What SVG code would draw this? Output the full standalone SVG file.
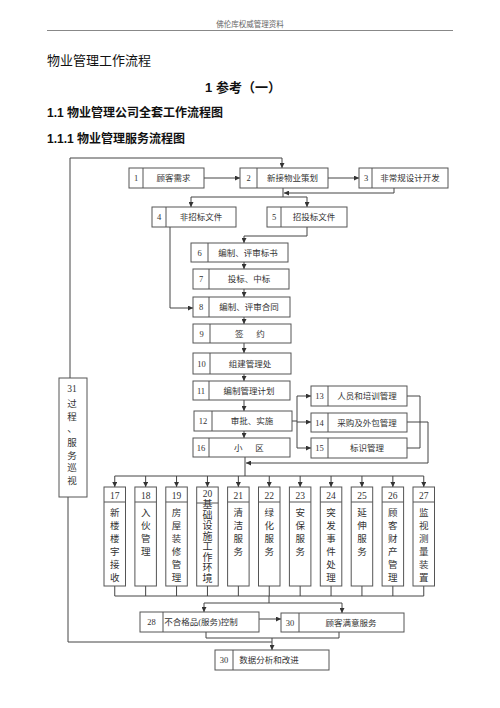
<svg xmlns="http://www.w3.org/2000/svg" width="500" height="708" viewBox="0 0 500 708">
<defs>
<style>
.b{fill:#fff;stroke:#555;stroke-width:1}
.d{stroke:#555;stroke-width:1;fill:none}
.c{stroke:#444;stroke-width:1;fill:none}
.ca{stroke:#444;stroke-width:1;fill:none;marker-end:url(#a)}
.t{font-family:"Liberation Serif","Noto Sans CJK SC",serif;font-size:8.5px;fill:#333;text-anchor:middle}
.v{font-family:"Liberation Serif","Noto Sans CJK SC",serif;font-size:9.5px;fill:#333;text-anchor:middle}
.h{font-family:"Liberation Sans","Noto Sans CJK SC",sans-serif;fill:#111}
</style>
<marker id="a" viewBox="0 0 6 6" refX="6" refY="3" markerWidth="5" markerHeight="5" orient="auto" markerUnits="userSpaceOnUse"><path d="M0,0 L6,3 L0,6 z" fill="#333"/></marker>
</defs>
<rect width="500" height="708" fill="#fff"/>
<text x="250" y="27" class="h" style="font-size:7.5px;fill:#666" text-anchor="middle">佛伦库权威管理资料</text>
<line x1="47" y1="30.5" x2="453" y2="30.5" stroke="#888" stroke-width="1"/>
<text x="47" y="65" class="h" style="font-size:13px">物业管理工作流程</text>
<text x="243" y="92" class="h" style="font-size:13px;font-weight:bold" text-anchor="middle">1 参考（一）</text>
<text x="47" y="117" class="h" style="font-size:12px;font-weight:bold">1.1 物业管理公司全套工作流程图</text>
<text x="47" y="143" class="h" style="font-size:12px;font-weight:bold">1.1.1 物业管理服务流程图</text>

<g id="connectors">
<path class="c" d="M70,378 V158 H282"/><path class="ca" d="M282,158 V168"/>
<path class="ca" d="M204,178 H240"/>
<path class="ca" d="M328,178 H359"/>
<path class="ca" d="M394,188 V193 H284"/>
<path class="c" d="M283,188 V197 M191,197 H307"/>
<path class="ca" d="M191,197 V207"/><path class="ca" d="M307,197 V207"/>
<path class="ca" d="M170,227 V308 H193"/>
<path class="ca" d="M307,227 V236 H244 V243"/>
<path class="ca" d="M244,262 V269"/>
<path class="ca" d="M244,289 V297"/>
<path class="ca" d="M244,317 V324"/>
<path class="ca" d="M244,343 V353"/>
<path class="ca" d="M244,374 V381"/>
<path class="ca" d="M244,400 V411"/>
<path class="ca" d="M244,431 V438"/>
<path class="c" d="M292,421 H297 M297,396 V448"/>
<path class="ca" d="M297,396 H311"/><path class="ca" d="M297,422 H311"/><path class="ca" d="M297,448 H311"/>
<path class="c" d="M407,396 H420 V448 H407"/>
<path class="ca" d="M407,422 H428 V463 H246"/>
<path class="c" d="M245,457 V476 M114.75,476 H423.75"/>
<path class="ca" d="M114.75,476 V487"/><path class="ca" d="M145.65,476 V487"/><path class="ca" d="M176.55,476 V487"/><path class="ca" d="M207.45,476 V487"/><path class="ca" d="M238.35,476 V487"/><path class="ca" d="M269.25,476 V487"/><path class="ca" d="M300.15,476 V487"/><path class="ca" d="M331.05,476 V487"/><path class="ca" d="M361.95,476 V487"/><path class="ca" d="M392.85,476 V487"/><path class="ca" d="M423.75,476 V487"/>
<path class="c" d="M114.75,586 V596 M145.65,586 V596 M176.55,586 V596 M207.45,586 V596 M238.35,586 V596 M269.25,586 V596 M300.15,586 V596 M331.05,586 V596 M361.95,586 V596 M392.85,586 V596 M423.75,586 V596 M114.75,596 H423.75 M269,596 V603 M204,603 H342"/>
<path class="ca" d="M204,603 V612"/><path class="ca" d="M342,603 V613"/>
<path class="ca" d="M259,619 H281"/>
<path class="c" d="M206,632 V638 H339 V632"/>
<path class="c" d="M68,497 V642 H272"/>
<path class="ca" d="M272,638 V650"/>
</g>

<g id="n1"><rect class="b" x="129" y="168" width="75" height="20"/><line class="d" x1="143" y1="168" x2="143" y2="188"/><text class="t" x="136" y="181">1</text><text class="t" x="173.5" y="181">顾客需求</text></g>
<g id="n2"><rect class="b" x="240" y="168" width="88" height="20"/><line class="d" x1="257" y1="168" x2="257" y2="188"/><text class="t" x="248.5" y="181">2</text><text class="t" x="292.5" y="181">新接物业策划</text></g>
<g id="n3"><rect class="b" x="359" y="168" width="89" height="20"/><line class="d" x1="372" y1="168" x2="372" y2="188"/><text class="t" x="366" y="181">3</text><text class="t" x="410" y="181">非常规设计开发</text></g>
<g id="n4"><rect class="b" x="152" y="207" width="84" height="20"/><line class="d" x1="166" y1="207" x2="166" y2="227"/><text class="t" x="159" y="220">4</text><text class="t" x="201" y="220">非招标文件</text></g>
<g id="n5"><rect class="b" x="267" y="207" width="80" height="20"/><line class="d" x1="281" y1="207" x2="281" y2="227"/><text class="t" x="274" y="220">5</text><text class="t" x="314" y="220">招投标文件</text></g>
<g id="n6"><rect class="b" x="191" y="243" width="97" height="19"/><line class="d" x1="208" y1="243" x2="208" y2="262"/><text class="t" x="199.5" y="255.5">6</text><text class="t" x="248" y="255.5">编制、评审标书</text></g>
<g id="n7"><rect class="b" x="193" y="269" width="96" height="20"/><line class="d" x1="209" y1="269" x2="209" y2="289"/><text class="t" x="201" y="282">7</text><text class="t" x="249" y="282">投标、中标</text></g>
<g id="n8"><rect class="b" x="193" y="297" width="97" height="20"/><line class="d" x1="209" y1="297" x2="209" y2="317"/><text class="t" x="201" y="310">8</text><text class="t" x="249" y="310">编制、评审合同</text></g>
<g id="n9"><rect class="b" x="193" y="324" width="98" height="19"/><line class="d" x1="210" y1="324" x2="210" y2="343"/><text class="t" x="201.5" y="336.5">9</text><text class="t" x="250" y="336.5" xml:space="preserve">签      约</text></g>
<g id="n10"><rect class="b" x="193" y="353" width="98" height="21"/><line class="d" x1="210" y1="353" x2="210" y2="374"/><text class="t" x="201.5" y="366.5">10</text><text class="t" x="250" y="366.5">组建管理处</text></g>
<g id="n11"><rect class="b" x="193" y="381" width="97" height="19"/><line class="d" x1="209" y1="381" x2="209" y2="400"/><text class="t" x="201" y="393.5">11</text><text class="t" x="249" y="393.5">编制管理计划</text></g>
<g id="n12"><rect class="b" x="194" y="411" width="98" height="20"/><line class="d" x1="212" y1="411" x2="212" y2="431"/><text class="t" x="203" y="424">12</text><text class="t" x="252" y="424">审批、实施</text></g>
<g id="n16"><rect class="b" x="193" y="438" width="97" height="19"/><line class="d" x1="209" y1="438" x2="209" y2="457"/><text class="t" x="201" y="450.5">16</text><text class="t" x="249" y="450.5" xml:space="preserve">小      区</text></g>
<g id="n13"><rect class="b" x="311" y="386" width="96" height="20"/><line class="d" x1="328" y1="386" x2="328" y2="406"/><text class="t" x="319.5" y="399">13</text><text class="t" x="367" y="399">人员和培训管理</text></g>
<g id="n14"><rect class="b" x="311" y="413" width="96" height="19"/><line class="d" x1="328" y1="413" x2="328" y2="432"/><text class="t" x="319.5" y="425.5">14</text><text class="t" x="367" y="425.5">采购及外包管理</text></g>
<g id="n15"><rect class="b" x="311" y="438" width="96" height="20"/><line class="d" x1="328" y1="438" x2="328" y2="458"/><text class="t" x="319.5" y="451">15</text><text class="t" x="367" y="451">标识管理</text></g>

<g id="n31"><rect class="b" x="59" y="378" width="28" height="119"/>
<text class="v" x="72" y="392">31</text><text class="v" x="72" y="407">过</text><text class="v" x="72" y="419.5">程</text><text class="v" x="72" y="432">、</text><text class="v" x="72" y="446">服</text><text class="v" x="72" y="458.5">务</text><text class="v" x="72" y="471">巡</text><text class="v" x="72" y="484">视</text></g>

<g id="n17"><rect class="b" x="104" y="487" width="21.5" height="99"/><line class="d" x1="104" y1="502" x2="125.5" y2="502"/><text class="v" x="114.75" y="499">17</text><text class="v" x="114.75" y="516">新</text><text class="v" x="114.75" y="529">楼</text><text class="v" x="114.75" y="542">楼</text><text class="v" x="114.75" y="555">宇</text><text class="v" x="114.75" y="568">接</text><text class="v" x="114.75" y="581">收</text></g>
<g id="n18"><rect class="b" x="134.9" y="487" width="21.5" height="99"/><line class="d" x1="134.9" y1="502" x2="156.4" y2="502"/><text class="v" x="145.65" y="499">18</text><text class="v" x="145.65" y="516">入</text><text class="v" x="145.65" y="529">伙</text><text class="v" x="145.65" y="542">管</text><text class="v" x="145.65" y="555">理</text></g>
<g id="n19"><rect class="b" x="165.8" y="487" width="21.5" height="99"/><line class="d" x1="165.8" y1="502" x2="187.3" y2="502"/><text class="v" x="176.55" y="499">19</text><text class="v" x="176.55" y="516">房</text><text class="v" x="176.55" y="529">屋</text><text class="v" x="176.55" y="542">装</text><text class="v" x="176.55" y="555">修</text><text class="v" x="176.55" y="568">管</text><text class="v" x="176.55" y="581">理</text></g>
<g id="n20"><rect class="b" x="196.7" y="487" width="21.5" height="99"/><line class="d" x1="196.7" y1="503" x2="218.2" y2="503"/><text class="v" x="207.45" y="497">20</text><text class="v" style="font-size:10px" x="207.45" y="508">基</text><text class="v" style="font-size:10px" x="207.45" y="518.5">础</text><text class="v" style="font-size:10px" x="207.45" y="529">设</text><text class="v" style="font-size:10px" x="207.45" y="539.5">施</text><text class="v" style="font-size:10px" x="207.45" y="550">工</text><text class="v" style="font-size:10px" x="207.45" y="560.5">作</text><text class="v" style="font-size:10px" x="207.45" y="571">环</text><text class="v" style="font-size:10px" x="207.45" y="581.5">境</text></g>
<g id="n21"><rect class="b" x="227.6" y="487" width="21.5" height="99"/><line class="d" x1="227.6" y1="502" x2="249.1" y2="502"/><text class="v" x="238.35" y="499">21</text><text class="v" x="238.35" y="516">清</text><text class="v" x="238.35" y="529">洁</text><text class="v" x="238.35" y="542">服</text><text class="v" x="238.35" y="555">务</text></g>
<g id="n22"><rect class="b" x="258.5" y="487" width="21.5" height="99"/><line class="d" x1="258.5" y1="502" x2="280" y2="502"/><text class="v" x="269.25" y="499">22</text><text class="v" x="269.25" y="516">绿</text><text class="v" x="269.25" y="529">化</text><text class="v" x="269.25" y="542">服</text><text class="v" x="269.25" y="555">务</text></g>
<g id="n23"><rect class="b" x="289.4" y="487" width="21.5" height="99"/><line class="d" x1="289.4" y1="502" x2="310.9" y2="502"/><text class="v" x="300.15" y="499">23</text><text class="v" x="300.15" y="516">安</text><text class="v" x="300.15" y="529">保</text><text class="v" x="300.15" y="542">服</text><text class="v" x="300.15" y="555">务</text></g>
<g id="n24"><rect class="b" x="320.3" y="487" width="21.5" height="99"/><line class="d" x1="320.3" y1="502" x2="341.8" y2="502"/><text class="v" x="331.05" y="499">24</text><text class="v" x="331.05" y="516">突</text><text class="v" x="331.05" y="529">发</text><text class="v" x="331.05" y="542">事</text><text class="v" x="331.05" y="555">件</text><text class="v" x="331.05" y="568">处</text><text class="v" x="331.05" y="581">理</text></g>
<g id="n25"><rect class="b" x="351.2" y="487" width="21.5" height="99"/><line class="d" x1="351.2" y1="502" x2="372.7" y2="502"/><text class="v" x="361.95" y="499">25</text><text class="v" x="361.95" y="516">延</text><text class="v" x="361.95" y="529">伸</text><text class="v" x="361.95" y="542">服</text><text class="v" x="361.95" y="555">务</text></g>
<g id="n26"><rect class="b" x="382.1" y="487" width="21.5" height="99"/><line class="d" x1="382.1" y1="502" x2="403.6" y2="502"/><text class="v" x="392.85" y="499">26</text><text class="v" x="392.85" y="516">顾</text><text class="v" x="392.85" y="529">客</text><text class="v" x="392.85" y="542">财</text><text class="v" x="392.85" y="555">产</text><text class="v" x="392.85" y="568">管</text><text class="v" x="392.85" y="581">理</text></g>
<g id="n27"><rect class="b" x="413" y="487" width="21.5" height="99"/><line class="d" x1="413" y1="502" x2="434.5" y2="502"/><text class="v" x="423.75" y="499">27</text><text class="v" x="423.75" y="516">监</text><text class="v" x="423.75" y="529">视</text><text class="v" x="423.75" y="542">测</text><text class="v" x="423.75" y="555">量</text><text class="v" x="423.75" y="568">装</text><text class="v" x="423.75" y="581">置</text></g>

<g id="n28"><rect class="b" x="140" y="612" width="119" height="20"/><line class="d" x1="163" y1="612" x2="163" y2="632"/><text class="t" x="151.5" y="625">28</text><text class="t" x="201" y="625">不合格品(服务)控制</text></g>
<g id="n30a"><rect class="b" x="281" y="613" width="123" height="19"/><line class="d" x1="299" y1="613" x2="299" y2="632"/><text class="t" x="290" y="625.5">30</text><text class="t" x="351" y="625.5">顾客满意服务</text></g>
<g id="n30b"><rect class="b" x="215" y="650" width="114" height="20"/><line class="d" x1="233" y1="650" x2="233" y2="670"/><text class="t" x="224" y="663">30</text><text class="t" x="269" y="663">数据分析和改进</text></g>
</svg>
